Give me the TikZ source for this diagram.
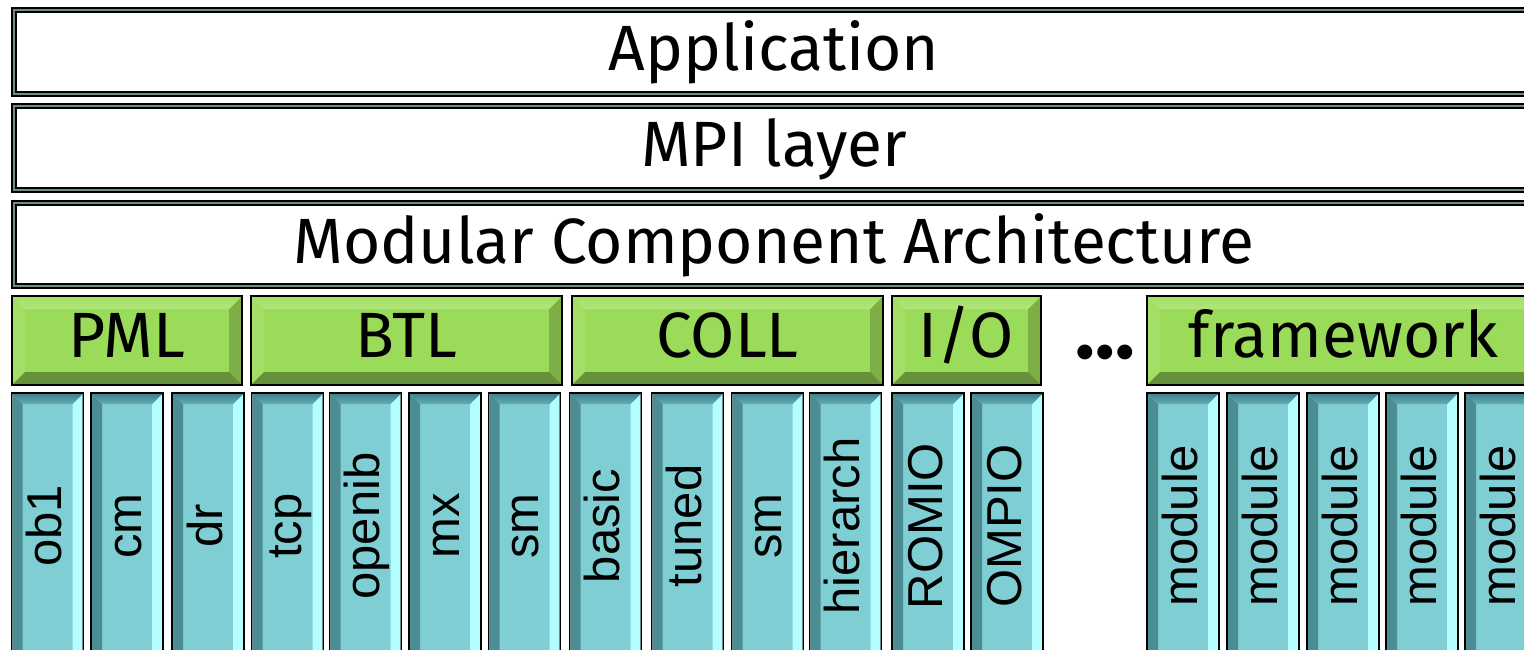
\documentclass[tikz,border=0pt]{standalone}
\usepackage{fontspec}
\setmainfont{Fira Sans}
\newfontfamily\lblfont{Liberation Sans}
\usetikzlibrary{calc}
\definecolor{rim}{HTML}{6D8A8C}
\definecolor{rimlt}{HTML}{93AEB0}
\definecolor{grn}{HTML}{9BDB5A}
\definecolor{grnTop}{HTML}{B1E679}
\definecolor{grnLeft}{HTML}{A3DF66}
\definecolor{grnRight}{HTML}{7EAF47}
\definecolor{grnBot}{HTML}{66913A}
\definecolor{tl}{HTML}{7ECED3}
\definecolor{tlTop}{HTML}{64AEB4}
\definecolor{tlTopDk}{HTML}{3F7F86}
\definecolor{tlLeft}{HTML}{4C8D94}
\definecolor{tlRight}{HTML}{B3FDFF}
\definecolor{tlBot}{HTML}{5A9CA2}
\tikzset{
  bevel/.style n args={6}{path picture={%
    \path (path picture bounding box.north west) coordinate (q1)
          (path picture bounding box.north east) coordinate (q2)
          (path picture bounding box.south east) coordinate (q3)
          (path picture bounding box.south west) coordinate (q4);
    \fill[#3] (q1) -- (q4) -- ($(q4)+(#1,-#1)$) -- ($(q1)+(#1,#1)$) -- cycle;
    \fill[#4] (q2) -- (q3) -- ($(q3)+(-#1,-#1)$) -- ($(q2)+(-#1,#1)$) -- cycle;
    \shade[#2] (q1) -- (q2) -- ($(q2)+(-#1,#1)$) -- ($(q1)+(#1,#1)$) -- cycle;
    \fill[#5] (q4) -- (q3) -- ($(q3)+(-#1,-#1)$) -- ($(q4)+(#1,-#1)$) -- cycle;
    \draw[#6, line width=2.2] (q1) rectangle (q3);
  }},
  layerbox/.style={draw=black, double=rim, double distance=2.6, line width=1.6,
    fill=white, rectangle, inner sep=0, minimum width=1520, minimum height=84,
    text height=38pt, text depth=0pt, font=\fontsize{64}{64}\selectfont},
  fwbox/.style={draw=black, line width=1.6, fill=grn, rectangle, inner sep=0,
    minimum height=89, text height=33pt, text depth=0pt,
    font=\fontsize{64}{64}\selectfont,
    bevel={13}{top color=grnLeft, bottom color=grnTop}{grnLeft}{grnRight}{grnBot}{rimlt}},
  modbox/.style={draw=black, line width=1.6, fill=tl, rectangle, inner sep=0,
    minimum width=72, minimum height=277,
    bevel={11}{top color=tlTopDk, bottom color=tlTop}{tlLeft}{tlRight}{tlBot}{rim}},
  modlbl/.style={rotate=90, anchor=base, inner sep=0,
    font=\lblfont\fontsize{49}{49}\selectfont},
}
\begin{document}
\begin{tikzpicture}[x=1pt,y=-1pt]
\useasboundingbox (0,0) rectangle (1524,650);
\clip (0,0) rectangle (1524,650);
% top layers
\node[layerbox] (app) at (774,52) {Application};
\node[layerbox] (mpi) at (774,148) {MPI layer};
\node[layerbox, minimum height=83] (mca) at (774,244.5) {Modular Component Architecture};
% frameworks
\node[fwbox, minimum width=230] (pml) at (127,340.5) {PML};
\node[fwbox, minimum width=311] (btl) at (406.5,340.5) {BTL};
\node[fwbox, minimum width=311] (coll) at (727.5,340.5) {COLL};
\node[fwbox, minimum width=149] (io) at (966.5,340.5) {I/O};
\node[fwbox, minimum width=393] (fw) at (1343.5,340.5) {framework};
\node[anchor=base, inner sep=0, font=\bfseries\fontsize{82}{82}\selectfont] (dots) at (1105,358) {…};
% modules
\foreach \n/\cx/\t in {m1/47.5/ob1, m2/127/cm, m3/208/dr, m4/287.5/tcp, m5/365.5/openib,
  m6/445/mx, m7/524.5/sm, m8/605.5/basic, m9/687.5/tuned, m10/767.5/sm, m11/845.5/hierarch,
  m12/928/ROMIO, m13/1007/OMPIO, m14/1183/module, m15/1263/module, m16/1343/module,
  m17/1422/module, m18/1501/module}{
  \node[modbox] (\n) at (\cx,531.5) {};
  \node[modlbl] (\n-l) at (\cx+14,526) {\t};
}
\end{tikzpicture}
\end{document}
